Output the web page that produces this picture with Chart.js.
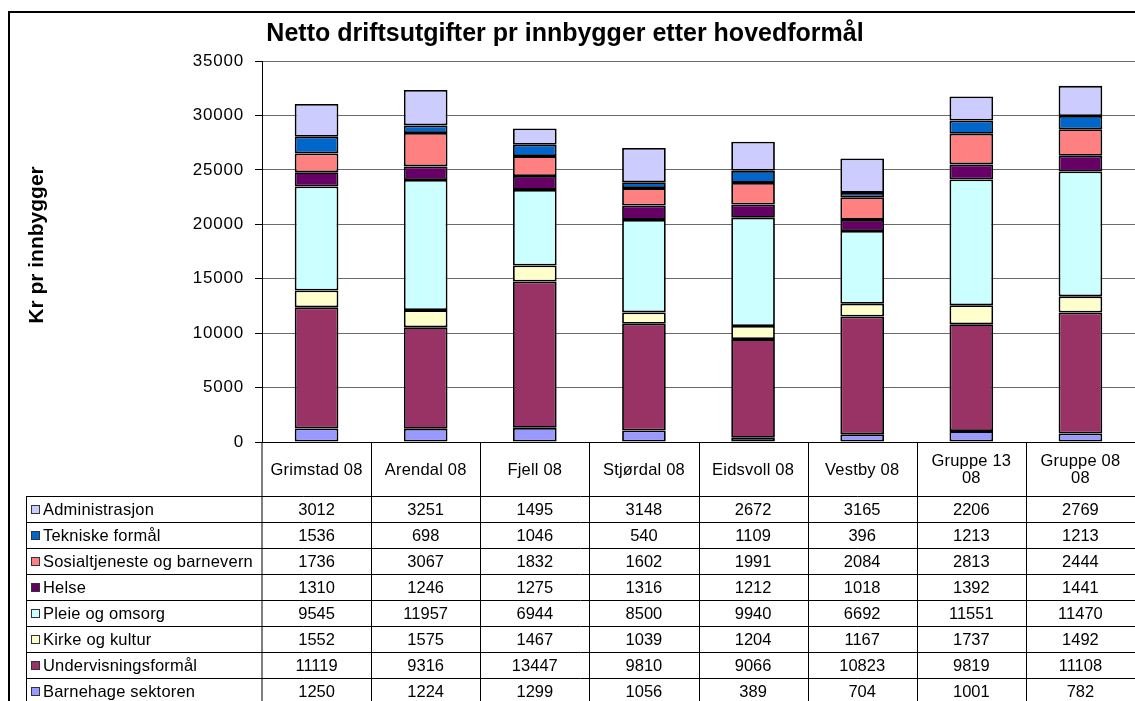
<!DOCTYPE html>
<html>
<head>
<meta charset="utf-8">
<script src="https://cdn.jsdelivr.net/npm/chart.js@4/dist/chart.umd.min.js"></script>
<style>
  html, body { margin: 0; padding: 0; background: #fff; }
  #wrap { width: 1135px; height: 701px; position: relative; }
</style>
</head>
<body>
<div id="wrap"><canvas id="graf" width="1135" height="701"></canvas></div>
<script>
const kategorier = ['Grimstad 08', 'Arendal 08', 'Fjell 08', 'Stjørdal 08', 'Eidsvoll 08', 'Vestby 08', 'Gruppe 13 08', 'Gruppe 08 08'];

// series, bottom of the stack first
const barnehage = [1250, 1224, 1299, 1056, 389, 704, 1001, 782];
const undervisning = [11119, 9316, 13447, 9810, 9066, 10823, 9819, 11108];
const kirke = [1552, 1575, 1467, 1039, 1204, 1167, 1737, 1492];
const pleie = [9545, 11957, 6944, 8500, 9940, 6692, 11551, 11470];
const helse = [1310, 1246, 1275, 1316, 1212, 1018, 1392, 1441];
const sosial = [1736, 3067, 1832, 1602, 1991, 2084, 2813, 2444];
const tekniske = [1536, 698, 1046, 540, 1109, 396, 1213, 1213];
const administrasjon = [3012, 3251, 1495, 3148, 2672, 3165, 2206, 2769];

const serier = [
    { navn: 'Barnehage sektoren', data: barnehage, farge: '#9999FF' },
    { navn: 'Undervisningsformål', data: undervisning, farge: '#993366' },
    { navn: 'Kirke og kultur', data: kirke, farge: '#FFFFCC' },
    { navn: 'Pleie og omsorg', data: pleie, farge: '#CCFFFF' },
    { navn: 'Helse', data: helse, farge: '#660066' },
    { navn: 'Sosialtjeneste og barnevern', data: sosial, farge: '#FF8080' },
    { navn: 'Tekniske formål', data: tekniske, farge: '#0066CC' },
    { navn: 'Administrasjon', data: administrasjon, farge: '#CCCCFF' }
];

const tittel = 'Netto driftsutgifter pr innbygger etter hovedformål';
const yTittel = 'Kr pr innbygger';
const FONT = '"Liberation Sans", Arial, sans-serif';

// table geometry
const tabellTopp = 442;
const hodeBunn = 496;
const radHoyde = 26;
const legendVenstre = 26;

const tabellPlugin = {
    id: 'tabell',
    beforeDraw(chart) {
        chart.ctx.letterSpacing = '0.8px';
    },
    afterDraw(chart) {
        const ctx = chart.ctx;
        const x = chart.scales.x;
        const area = chart.chartArea;
        const halv = (x.getPixelForValue(1) - x.getPixelForValue(0)) / 2;
        const rader = serier.slice().reverse();
        const bunn = hodeBunn + rader.length * radHoyde;

        ctx.save();
        ctx.letterSpacing = '0px';
        // outer frame
        ctx.strokeStyle = '#000';
        ctx.lineWidth = 2;
        ctx.beginPath();
        ctx.moveTo(9, 703);
        ctx.lineTo(9, 12);
        ctx.lineTo(1140, 12);
        ctx.stroke();

        // title
        ctx.fillStyle = '#000';
        ctx.font = 'bold 25px ' + FONT;
        ctx.textAlign = 'center';
        ctx.textBaseline = 'alphabetic';
        ctx.fillText(tittel, 565, 41);

        // y title
        ctx.save();
        ctx.translate(37, 245);
        ctx.rotate(-Math.PI / 2);
        ctx.textBaseline = 'middle';
        ctx.font = 'bold 21px ' + FONT;
        ctx.fillText(yTittel, 0, 0);
        ctx.restore();

        // grid lines of the table
        ctx.lineWidth = 1;
        ctx.strokeStyle = '#000';
        ctx.beginPath();
        ctx.moveTo(area.left, tabellTopp);
        ctx.lineTo(area.left, bunn);
        for (let i = 0; i < kategorier.length; i++) {
            const h = x.getPixelForValue(i) + halv;
            ctx.moveTo(Math.round(h) + 0.5, tabellTopp);
            ctx.lineTo(Math.round(h) + 0.5, bunn);
        }
        for (let r = 0; r <= rader.length; r++) {
            const y = Math.round(hodeBunn + r * radHoyde) + 0.5;
            ctx.moveTo(legendVenstre, y);
            ctx.lineTo(area.right, y);
        }
        ctx.moveTo(legendVenstre + 0.5, hodeBunn);
        ctx.lineTo(legendVenstre + 0.5, bunn);
        ctx.stroke();

        // header labels
        ctx.textBaseline = 'middle';
        ctx.font = '16.5px ' + FONT;
        ctx.letterSpacing = '0.2px';
        kategorier.forEach((k, i) => {
            const cx = x.getPixelForValue(i);
            const maks = halv * 2 - 14;
            let linjer = [k];
            if (ctx.measureText(k).width > maks) {
                const p = k.lastIndexOf(' ');
                linjer = [k.slice(0, p), k.slice(p + 1)];
            }
            const midt = (tabellTopp + hodeBunn) / 2 + 1;
            linjer.forEach((l, j) => {
                ctx.fillText(l, cx, midt + (j - (linjer.length - 1) / 2) * 17);
            });
        });

        // rows
        rader.forEach((s, r) => {
            const ym = hodeBunn + r * radHoyde + radHoyde / 2 + 1;
            ctx.fillStyle = s.farge;
            ctx.fillRect(31, ym - 5, 9, 9);
            ctx.strokeStyle = '#333';
            ctx.strokeRect(31.5, ym - 4.5, 8, 8);
            ctx.fillStyle = '#000';
            ctx.textAlign = 'left';
            ctx.letterSpacing = '0.2px';
            ctx.fillText(s.navn, 43, ym);
            ctx.textAlign = 'center';
            ctx.letterSpacing = '0px';
            s.data.forEach((v, i) => {
                ctx.fillText(String(v), x.getPixelForValue(i), ym);
            });
        });
        ctx.restore();
    }
};

new Chart(document.getElementById('graf'), {
    type: 'bar',
    data: {
        labels: kategorier,
        datasets: serier.map(s => ({
            label: s.navn,
            data: s.data,
            backgroundColor: s.farge,
            borderColor: '#000',
            borderWidth: 1.8,
            borderSkipped: false,
            barPercentage: 0.4,
            categoryPercentage: 1
        }))
    },
    options: {
        responsive: false,
        animation: false,
        layout: { padding: { top: 61, left: 0, right: 0, bottom: 259 } },
        plugins: {
            legend: { display: false },
            title: { display: false },
            tooltip: { enabled: false }
        },
        scales: {
            x: {
                stacked: true,
                ticks: { display: false },
                grid: { display: false },
                border: { color: '#000', width: 1 },
                afterFit(scale) { scale.height = 0; }
            },
            y: {
                stacked: true,
                min: 0,
                max: 35000,
                ticks: {
                    stepSize: 5000,
                    color: '#000',
                    padding: 11,
                    font: { family: FONT, size: 17 },
                    callback: v => String(v)
                },
                grid: { color: '#6a6a6a', tickLength: 7, tickColor: '#000' },
                border: { color: '#000', width: 1 },
                afterFit(scale) { scale.width = 262; }
            }
        }
    },
    plugins: [tabellPlugin]
});
</script>
</body>
</html>
